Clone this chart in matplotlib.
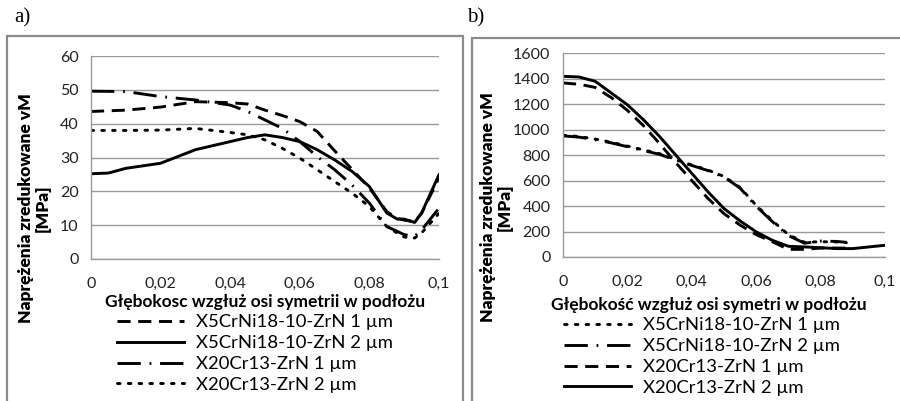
import matplotlib
matplotlib.use("Agg")
import matplotlib.pyplot as plt
from matplotlib.patches import Rectangle

plt.rcParams['font.family'] = ['Lato', 'DejaVu Sans']

# ---------------- data: panel a ----------------
xa_1 = [0, 0.01, 0.02, 0.03, 0.04, 0.045, 0.05, 0.055, 0.06, 0.065, 0.07, 0.075, 0.08, 0.085, 0.088, 0.09, 0.093, 0.095, 0.1]
ya_1 = [43.6, 44.0, 44.9, 46.5, 46.2, 45.8, 44.0, 42.4, 40.6, 37.7, 32.0, 26.5, 21.0, 14.0, 12.0, 11.5, 11.0, 13.5, 24.0]

xa_2 = [0, 0.005, 0.01, 0.02, 0.03, 0.04, 0.045, 0.05, 0.055, 0.06, 0.065, 0.07, 0.075, 0.08, 0.085, 0.088, 0.09, 0.093, 0.095, 0.1]
ya_2 = [25.2, 25.4, 26.8, 28.3, 32.3, 34.7, 35.9, 36.7, 35.9, 34.7, 32.3, 29.3, 25.9, 21.4, 13.6, 11.8, 11.8, 10.8, 13.6, 24.9]

xa_3 = [0, 0.01, 0.02, 0.03, 0.04, 0.045, 0.05, 0.055, 0.06, 0.065, 0.07, 0.075, 0.08, 0.085, 0.09, 0.093, 0.095, 0.1]
ya_3 = [49.6, 49.5, 48.0, 47.0, 45.5, 43.6, 41.1, 38.6, 34.7, 30.3, 26.4, 21.9, 16.5, 9.6, 7.2, 6.7, 8.6, 15.0]

xa_4 = [0, 0.01, 0.02, 0.03, 0.04, 0.045, 0.05, 0.055, 0.06, 0.065, 0.07, 0.075, 0.08, 0.085, 0.088, 0.09, 0.093, 0.095, 0.1]
ya_4 = [38.0, 38.0, 38.1, 38.6, 37.4, 36.7, 35.2, 32.7, 29.8, 26.4, 22.9, 19.5, 15.5, 9.6, 7.7, 6.5, 6.2, 7.7, 13.5]

labels_a = ["X5CrNi18-10-ZrN 1 µm", "X5CrNi18-10-ZrN 2 µm", "X20Cr13-ZrN 1 µm", "X20Cr13-ZrN 2 µm"]

# ---------------- data: panel b ----------------
xb_1 = [0, 0.005, 0.01, 0.015, 0.02, 0.025, 0.03, 0.035, 0.04, 0.045, 0.05, 0.055, 0.06, 0.065, 0.07, 0.075, 0.08, 0.085, 0.088]
yb_1 = [955, 945, 925, 900, 870, 840, 810, 765, 722, 682, 632, 545, 405, 285, 175, 115, 120, 118, 112]

xb_2 = [0, 0.005, 0.01, 0.015, 0.02, 0.025, 0.03, 0.035, 0.04, 0.045, 0.05, 0.055, 0.06, 0.065, 0.07, 0.075, 0.08, 0.085, 0.088]
yb_2 = [950, 940, 920, 895, 865, 835, 805, 760, 718, 678, 628, 540, 398, 278, 168, 108, 125, 122, 115]

xb_3 = [0, 0.005, 0.01, 0.015, 0.02, 0.025, 0.03, 0.035, 0.04, 0.045, 0.05, 0.055, 0.06, 0.065, 0.07, 0.075, 0.08, 0.085, 0.09]
yb_3 = [1365, 1355, 1330, 1250, 1150, 1030, 890, 740, 600, 460, 340, 250, 175, 120, 60, 60, 70, 70, 70]

xb_4 = [0, 0.005, 0.01, 0.015, 0.02, 0.025, 0.03, 0.035, 0.04, 0.045, 0.05, 0.055, 0.06, 0.065, 0.07, 0.075, 0.08, 0.085, 0.09, 0.095, 0.1]
yb_4 = [1417, 1412, 1378, 1286, 1194, 1076, 945, 800, 656, 512, 380, 283, 197, 131, 84, 79, 73, 66, 66, 79, 92]

labels_b = ["X5CrNi18-10-ZrN 1 µm", "X5CrNi18-10-ZrN 2 µm", "X20Cr13-ZrN 1 µm", "X20Cr13-ZrN 2 µm"]

xticks = [0, 0.02, 0.04, 0.06, 0.08, 0.1]
xticklabels = ["0", "0,02", "0,04", "0,06", "0,08", "0,1"]
yticks_a = [0, 10, 20, 30, 40, 50, 60]
yticks_b = [0, 200, 400, 600, 800, 1000, 1200, 1400, 1600]

W, H = 900, 401
fig = plt.figure(figsize=(W / 100, H / 100), dpi=100)

def px_axes(l, t, r, b):
    return fig.add_axes([l / W, 1 - b / H, (r - l) / W, (b - t) / H])

LW = 2.1
DASH = dict(ls=(0, (4.5, 2.6)))
DASHDOT = dict(ls=(0, (8.0, 3.0, 0.6, 3.0)))
DOT = dict(ls=(0, (0.9, 2.8)), dash_capstyle='round')
SOLID = dict(ls='-')

grid_c = '#9a9a9a'
TICK_FS = 11.5
LAB_FS = 12.5
LEG_FS = 13.3

def style(ax, yticks, ymax):
    ax.set_xlim(0, 0.1)
    ax.set_ylim(0, ymax)
    ax.set_xticks(xticks)
    ax.set_xticklabels(xticklabels)
    ax.set_yticks(yticks)
    ax.tick_params(length=0, labelsize=TICK_FS, colors='#222222')
    ax.tick_params(axis='x', pad=13)
    ax.tick_params(axis='y', pad=9)
    ax.grid(axis='y', color=grid_c, lw=1.0)
    ax.set_axisbelow(True)
    for s in ['top', 'right']:
        ax.spines[s].set_visible(False)
    for s in ['left', 'bottom']:
        ax.spines[s].set_color(grid_c)
        ax.spines[s].set_linewidth(1.0)

# frames
fig.add_artist(Rectangle((7 / W, -0.01), (463 - 7) / W, (401 - 36) / H + 0.01, transform=fig.transFigure,
                         fill=False, ec='#8a8a8a', lw=1.6))
fig.add_artist(Rectangle((472 / W, -0.01), (903 - 472) / W, (401 - 38) / H + 0.01, transform=fig.transFigure,
                         fill=False, ec='#8a8a8a', lw=1.6))

fig.text(14 / W, 1 - 18 / H, "a)", family='Liberation Serif', fontsize=15, va='center', ha='left')
fig.text(467 / W, 1 - 18 / H, "b)", family='Liberation Serif', fontsize=15, va='center', ha='left')

leg_kw = dict(loc='upper left', frameon=False, fontsize=LEG_FS, handlelength=3.6,
              labelspacing=0.27, handletextpad=0.65, borderpad=0, borderaxespad=0)

# ---- panel a ----
axa = px_axes(91, 56, 439, 259)
style(axa, yticks_a, 60)
la = []
la += axa.plot(xa_1, ya_1, color='black', lw=LW, **DASH)
la += axa.plot(xa_2, ya_2, color='black', lw=LW, **SOLID)
la += axa.plot(xa_3, ya_3, color='black', lw=LW, **DASHDOT)
la += axa.plot(xa_4, ya_4, color='black', lw=LW, **DOT)
for l, lab in zip(la, labels_a):
    l.set_label(lab)

fig.text(34 / W, 1 - 208 / H, "Naprężenia zredukowane vM\n[MPa]", rotation=90, fontsize=LAB_FS,
         fontweight='heavy', ha='center', va='center', linespacing=1.05)
fig.text(265 / W, 1 - 302 / H, "Głębokosc wzgłuż osi symetrii w podłożu", fontsize=LAB_FS,
         fontweight='bold', ha='center', va='center')
fig.legend(handles=la, bbox_to_anchor=(117 / W, 1 - 314 / H), **leg_kw)

# ---- panel b ----
axb = px_axes(563, 53, 885, 257)
style(axb, yticks_b, 1600)
lb = []
lb += axb.plot(xb_1, yb_1, color='black', lw=LW, **DOT)
lb += axb.plot(xb_2, yb_2, color='black', lw=LW, **DASHDOT)
lb += axb.plot(xb_3, yb_3, color='black', lw=LW, **DASH)
lb += axb.plot(xb_4, yb_4, color='black', lw=LW, **SOLID)
for l, lab in zip(lb, labels_b):
    l.set_label(lab)

fig.text(496 / W, 1 - 207 / H, "Naprężenia zredukowane vM\n[MPa]", rotation=90, fontsize=LAB_FS,
         fontweight='heavy', ha='center', va='center', linespacing=1.05)
fig.text(709 / W, 1 - 305 / H, "Głębokość wzgłuż osi symetri w podłożu", fontsize=LAB_FS,
         fontweight='bold', ha='center', va='center')
fig.legend(handles=lb, bbox_to_anchor=(564 / W, 1 - 317 / H), **leg_kw)

fig.savefig("out.png", dpi=100)
